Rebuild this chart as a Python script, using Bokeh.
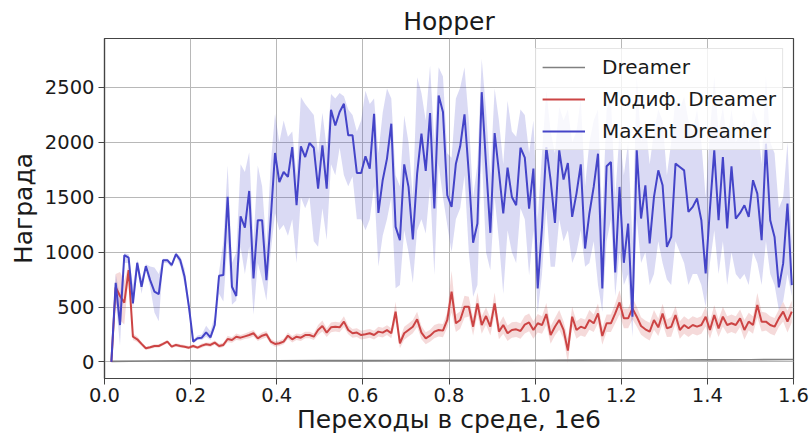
import numpy as np
from bokeh.plotting import figure
from bokeh.models import Range1d, FixedTicker, Legend, LegendItem, PrintfTickFormatter
from bokeh.embed import file_html
from bokeh.resources import INLINE

# ---- data (x in millions of environment transitions) ----
n_points = 159
x_steps = np.round(0.016 + 0.01 * np.arange(n_points), 4)

blue_mean = [
    0, 720, 336, 972, 951, 533, 903, 685, 873, 745,
    640, 618, 927, 927, 882, 982, 927, 775, 503, 185,
    215, 221, 270, 224, 336, 785, 791, 1503, 685, 600,
    1327, 1224, 1557, 761, 1291, 1291, 745, 1300, 1903, 1639,
    1730, 1685, 1957, 1427, 1964, 1866, 1994, 1951, 1579, 1973,
    1579, 2297, 2154, 2276, 2351, 2064, 2064, 1721, 1721, 1873,
    1761, 2260, 1357, 1655, 1852, 2170, 1230, 1109, 1800, 1594,
    1115, 1715, 2079, 1739, 2266, 1397, 2427, 2276, 1518, 1412,
    1806, 1964, 2255, 1715, 1085, 1261, 2457, 1800, 1176, 2085,
    1730, 1352, 1770, 1503, 1427, 1951, 1861, 1397, 1761, 670,
    1230, 1957, 1655, 1267, 1927, 1661, 1812, 1321, 1533, 1800,
    1033, 1352, 1594, 1897, 670, 1782, 1821, 815, 1594, 903,
    1261, 412, 1927, 1306, 1609, 1079, 1503, 1745, 1609, 1048,
    1139, 1806, 1776, 1745, 1367, 1412, 1488, 1291, 806, 1397,
    1927, 1291, 1866, 1215, 1782, 1306, 1357, 1427, 1321, 1655,
    1533, 1109, 1988, 1291, 1139, 679, 897, 1442, 700,
]
blue_lo = [
    0, 560, 150, 900, 900, 480, 850, 620, 840, 680,
    450, 370, 900, 900, 860, 960, 880, 700, 450, 170,
    200, 200, 230, 200, 300, 620, 550, 1100, 520, 560,
    1050, 800, 1050, 430, 900, 750, 560, 1000, 1355, 1200,
    1250, 1150, 1300, 900, 1500, 1400, 1500, 1100, 1050, 1400,
    1110, 1800, 1700, 1950, 1700, 1600, 1690, 1300, 1300, 1200,
    1300, 1600, 870, 1150, 1300, 1500, 670, 700, 1200, 1000,
    718, 1200, 1300, 1170, 1600, 791, 1800, 1500, 1245, 1000,
    1300, 1400, 1700, 1000, 594, 700, 1900, 1000, 836, 1500,
    1100, 620, 1200, 1000, 900, 1400, 1300, 790, 1200, 445,
    800, 1400, 866, 866, 1300, 1100, 1200, 900, 1000, 1200,
    866, 900, 1100, 700, 457, 1100, 1300, 600, 1000, 700,
    800, 230, 1300, 900, 1000, 700, 800, 1100, 900, 750,
    700, 1100, 1000, 900, 700, 800, 800, 700, 503, 900,
    1200, 800, 1100, 700, 1000, 800, 750, 800, 700, 1000,
    900, 700, 1100, 800, 700, 473, 550, 800, 600,
]
blue_hi = [
    10, 800, 600, 990, 980, 700, 930, 760, 890, 870,
    860, 800, 940, 940, 900, 995, 960, 850, 560, 200,
    240, 250, 330, 280, 420, 820, 1100, 1790, 900, 1000,
    1800, 1730, 1910, 1100, 1790, 1600, 1050, 1800, 2260, 2000,
    2200, 2050, 2100, 1700, 2412, 2350, 2300, 2250, 1900, 2270,
    1950, 2440, 2400, 2450, 2420, 2300, 2250, 2100, 2200, 2470,
    2350, 2400, 1900, 2270, 2490, 2400, 1700, 1600, 2245, 2000,
    1500, 2594, 2450, 2200, 2700, 2000, 2685, 2600, 1900, 1860,
    2400, 2500, 2685, 2200, 1500, 1800, 2760, 2300, 1700, 2490,
    2200, 1800, 2380, 2100, 2050, 2300, 2250, 1900, 2200, 1300,
    1900, 2470, 2100, 1900, 2324, 2200, 2300, 2000, 2100, 2400,
    1600, 2000, 2200, 2300, 1300, 2300, 2400, 1500, 2100, 1700,
    2000, 1100, 2600, 2000, 2200, 1800, 2100, 2300, 2200, 1700,
    2000, 2400, 2300, 2420, 2200, 2100, 2300, 2000, 1500, 2100,
    2600, 2100, 2321, 2000, 2300, 2000, 2100, 2200, 2000, 2300,
    2200, 1800, 2600, 2000, 1900, 1400, 1500, 2000, 1100,
]

red_mean = [
    0, 680, 600, 540, 836, 230, 206, 164, 124, 133,
    145, 145, 164, 185, 139, 155, 145, 139, 130, 145,
    130, 148, 161, 155, 176, 145, 155, 209, 200, 230,
    221, 233, 245, 261, 215, 239, 252, 185, 164, 170,
    185, 239, 206, 230, 221, 245, 245, 230, 291, 327,
    267, 315, 321, 315, 367, 291, 261, 267, 245, 252,
    261, 245, 276, 267, 290, 261, 458, 170, 261, 291,
    321, 388, 267, 215, 239, 276, 291, 285, 382, 640,
    352, 382, 503, 503, 321, 533, 336, 418, 321, 533,
    276, 336, 261, 291, 297, 282, 340, 360, 291, 352,
    336, 436, 245, 321, 382, 291, 103, 412, 291, 321,
    306, 382, 352, 442, 236, 352, 352, 442, 542, 397,
    397, 488, 412, 327, 297, 276, 382, 315, 440, 306,
    320, 427, 291, 336, 306, 336, 321, 336, 412, 291,
    427, 306, 412, 336, 352, 336, 397, 291, 367, 336,
    518, 367, 367, 336, 321, 397, 458, 367, 458,
]
red_spread = [
    0, 120, 220, 200, 50, 30, 25, 20, 15, 15,
    15, 15, 15, 15, 15, 15, 15, 15, 15, 15,
    15, 20, 15, 20, 20, 20, 20, 30, 25, 30,
    25, 25, 30, 30, 25, 30, 30, 25, 25, 25,
    25, 30, 30, 30, 30, 30, 30, 30, 45, 50,
    40, 45, 45, 45, 50, 40, 40, 40, 40, 40,
    40, 40, 45, 45, 45, 45, 90, 45, 60, 60,
    60, 70, 60, 55, 55, 60, 60, 60, 70, 190,
    80, 80, 100, 90, 80, 100, 80, 80, 80, 100,
    70, 80, 70, 70, 70, 70, 80, 80, 80, 85,
    80, 100, 80, 80, 90, 80, 110, 90, 80, 80,
    80, 90, 80, 90, 80, 80, 80, 90, 110, 90,
    90, 100, 90, 80, 80, 80, 90, 80, 90, 80,
    90, 80, 80, 80, 80, 80, 80, 80, 90, 80,
    90, 80, 90, 80, 80, 80, 80, 90, 80, 80,
    110, 90, 80, 80, 80, 80, 90, 100, 100,
]

gray_x = [0.016, 0.1, 0.2, 0.3, 0.4, 0.5, 0.6, 0.7, 0.8, 0.9, 1.0, 1.1, 1.2, 1.3, 1.4, 1.5, 1.6]
gray_y = [5, 8, 10, 10, 11, 12, 12, 13, 14, 14, 15, 16, 17, 18, 19, 20, 22]

x_ticks = [0.0, 0.2, 0.4, 0.6, 0.8, 1.0, 1.2, 1.4, 1.6]
y_ticks = [0, 500, 1000, 1500, 2000, 2500]

labels = ["Dreamer", "Модиф. Dreamer", "MaxEnt Dreamer"]
title_text = "Hopper"
x_label = "Переходы в среде, 1e6"
y_label = "Награда"

# ---- styles ----
GRAY = "#808080"
RED = "#cc4444"
BLUE = "#4444c8"
FONT = "DejaVu Sans"

red_lo = [m - s for m, s in zip(red_mean, red_spread)]
red_hi = [m + s for m, s in zip(red_mean, red_spread)]

p = figure(width=810, height=440, output_backend="svg", toolbar_location=None,
           x_range=Range1d(0, 1.6), y_range=Range1d(-151, 2946),
           min_border_left=104, min_border_right=17, min_border_top=38, min_border_bottom=62)
p.background_fill_color = "white"
p.border_fill_color = "white"
p.outline_line_color = "#444444"
p.outline_line_width = 1.2

p.title.text = title_text
p.title.align = "center"
p.title.text_font = FONT
p.title.text_font_size = "25px"
p.title.text_font_style = "normal"
p.title.text_color = "#1a1a1a"
p.title.standoff = 5

p.grid.grid_line_color = "#b8b8b8"
p.grid.grid_line_width = 1

p.xaxis.ticker = FixedTicker(ticks=x_ticks)
p.xaxis.formatter = PrintfTickFormatter(format="%.1f")
p.yaxis.ticker = FixedTicker(ticks=y_ticks)
for ax in (p.xaxis[0], p.yaxis[0]):
    ax.axis_line_color = "#444444"
    ax.axis_line_width = 1.2
    ax.major_tick_line_color = "#444444"
    ax.major_tick_out = 6
    ax.major_tick_in = 0
    ax.minor_tick_line_color = None
    ax.major_label_text_font = FONT
    ax.major_label_text_font_size = "19.5px"
    ax.major_label_text_color = "#1a1a1a"
    ax.axis_label_text_font = FONT
    ax.axis_label_text_font_size = "25px"
    ax.axis_label_text_font_style = "normal"
    ax.axis_label_text_color = "#1a1a1a"
p.xaxis.axis_label = x_label
p.yaxis.axis_label = y_label
p.xaxis.major_label_standoff = 3
p.xaxis.axis_label_standoff = 0
p.yaxis.major_label_standoff = 4
p.yaxis.axis_label_standoff = 4

# bands
p.varea(x=x_steps, y1=red_lo, y2=red_hi, fill_color=RED, fill_alpha=0.2)
p.varea(x=x_steps, y1=blue_lo, y2=blue_hi, fill_color=BLUE, fill_alpha=0.2)

# lines
g = p.line(gray_x, gray_y, line_color=GRAY, line_width=1.6)
r = p.line(x_steps, red_mean, line_color=RED, line_width=2)
b = p.line(x_steps, blue_mean, line_color=BLUE, line_width=2)

legend = Legend(items=[LegendItem(label=labels[0], renderers=[g]),
                       LegendItem(label=labels[1], renderers=[r]),
                       LegendItem(label=labels[2], renderers=[b])],
                location="top_right")
legend.margin = 10
legend.padding = 6
legend.spacing = 8
legend.label_height = 20
legend.glyph_height = 20
legend.glyph_width = 43
legend.label_standoff = 17
legend.label_text_font = FONT
legend.label_text_font_size = "20px"
legend.label_text_color = "#1a1a1a"
legend.border_line_color = "#cccccc"
legend.border_line_width = 1
legend.background_fill_color = "white"
legend.background_fill_alpha = 0.8
p.add_layout(legend)

open("out.html", "w").write(file_html(p, INLINE))
